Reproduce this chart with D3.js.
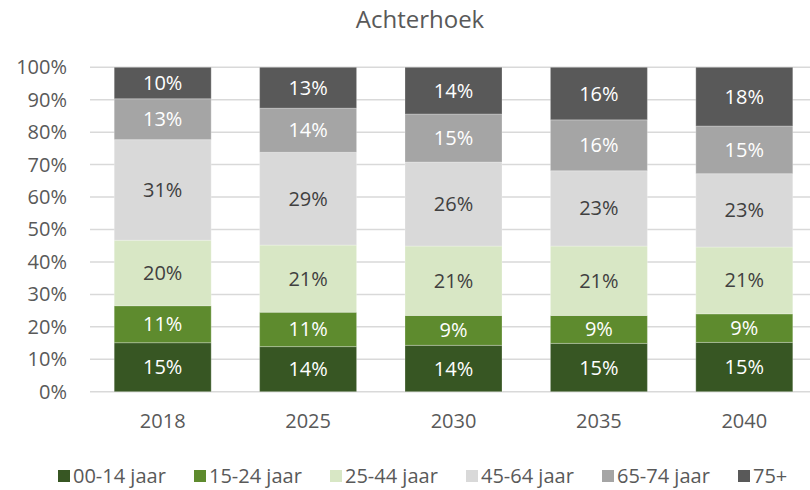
<!DOCTYPE html>
<html>
<head>
<meta charset="utf-8">
<script src="https://cdn.jsdelivr.net/npm/d3@7"></script>
<style>
  html, body { margin: 0; padding: 0; background: #ffffff; }
  svg { display: block; font-family: "Open Sans", "Noto Sans", sans-serif; }
</style>
</head>
<body>
<svg id="chart" width="810" height="490"></svg>
<script>
// Years on the x axis
const years = ["2018", "2025", "2030", "2035", "2040"];

// Age groups (legend order, stacked bottom to top)
const groups = ["00-14 jaar", "15-24 jaar", "25-44 jaar", "45-64 jaar", "65-74 jaar", "75+"];

// Share of the population per age group (%), one value per year
const age00_14 = [15.1, 13.9, 14.3, 14.9, 15.2];
const age15_24 = [11.4, 10.6, 9.2, 8.6, 8.8];
const age25_44 = [20.2, 20.7, 21.4, 21.4, 20.6];
const age45_64 = [31.0, 28.6, 25.9, 23.2, 22.6];
const age65_74 = [12.6, 13.6, 14.8, 15.7, 14.7];
const age75plus = [9.7, 12.6, 14.4, 16.2, 18.1];

// Y axis tick values (%)
const yTicks = [0, 10, 20, 30, 40, 50, 60, 70, 80, 90, 100];

const title = "Achterhoek";

const seriesValues = [age00_14, age15_24, age25_44, age45_64, age65_74, age75plus];
const fills = ["#375623", "#5e8b2e", "#d8e7c5", "#d9d9d9", "#a5a5a5", "#595959"];
const labelColors = ["#ffffff", "#ffffff", "#404040", "#404040", "#ffffff", "#ffffff"];

const rows = years.map((y, i) => {
  const r = { year: y };
  groups.forEach((g, k) => { r[g] = seriesValues[k][i]; });
  return r;
});

const svg = d3.select("#chart");

const x = d3.scaleBand()
  .domain(years)
  .range([90, 817])
  .paddingInner(0.333)
  .paddingOuter(0.1665);

const y = d3.scaleLinear()
  .domain([0, 100])
  .range([391.7, 67.3]);

// Title
svg.append("text")
  .attr("x", 420)
  .attr("y", 28)
  .attr("text-anchor", "middle")
  .attr("font-size", 24)
  .attr("fill", "#595959")
  .text(title);

// Horizontal gridlines
svg.append("g")
  .selectAll("line")
  .data(yTicks)
  .join("line")
  .attr("x1", 90)
  .attr("x2", 817)
  .attr("y1", d => y(d))
  .attr("y2", d => y(d))
  .attr("stroke", "#d9d9d9")
  .attr("stroke-width", 1.5);

// Y axis labels
const yAxis = d3.axisLeft(y)
  .tickValues(yTicks)
  .tickFormat(d => d + "%")
  .tickSize(0)
  .tickPadding(0);
const gy = svg.append("g")
  .attr("transform", "translate(67,0)")
  .call(yAxis);
gy.select(".domain").remove();
gy.selectAll("text")
  .attr("font-family", "\"Open Sans\", \"Noto Sans\", sans-serif")
  .attr("font-size", 20)
  .attr("fill", "#595959");

// X axis labels
const xAxis = d3.axisBottom(x).tickSize(0).tickPadding(0);
const gx = svg.append("g")
  .attr("transform", "translate(0,414)")
  .call(xAxis);
gx.select(".domain").remove();
gx.selectAll("text")
  .attr("font-family", "\"Open Sans\", \"Noto Sans\", sans-serif")
  .attr("font-size", 20)
  .attr("fill", "#595959");

// Stacked bars
const stacked = d3.stack().keys(groups)(rows);

const layers = svg.append("g")
  .selectAll("g")
  .data(stacked)
  .join("g")
  .attr("fill", (d, i) => fills[i]);

layers.selectAll("rect")
  .data(d => d)
  .join("rect")
  .attr("x", d => x(d.data.year))
  .attr("width", x.bandwidth())
  .attr("y", d => y(d[1]))
  .attr("height", d => y(d[0]) - y(d[1]))
  .attr("stroke", "#ffffff")
  .attr("stroke-opacity", 0.25)
  .attr("stroke-width", 1);

// Value labels inside the segments
const fmt = d3.format(".0f");
svg.append("g")
  .selectAll("g")
  .data(stacked)
  .join("g")
  .attr("fill", (d, i) => labelColors[i])
  .selectAll("text")
  .data(d => d.map(s => ({ s, key: d.key })))
  .join("text")
  .attr("x", d => x(d.s.data.year) + x.bandwidth() / 2)
  .attr("y", d => (y(d.s[0]) + y(d.s[1])) / 2)
  .attr("dy", "0.35em")
  .attr("text-anchor", "middle")
  .attr("font-size", 20)
  .text(d => fmt(d.s[1] - d.s[0]) + "%");

// Legend
const legend = svg.append("g")
  .selectAll("g")
  .data(groups)
  .join("g")
  .attr("transform", (d, i) => `translate(${58 + i * 136},470)`);

legend.append("rect")
  .attr("width", 12)
  .attr("height", 12)
  .attr("fill", (d, i) => fills[i]);

legend.append("text")
  .attr("x", 15)
  .attr("y", 6)
  .attr("dy", "0.35em")
  .attr("font-size", 20)
  .attr("fill", "#595959")
  .text(d => d);
</script>
</body>
</html>
